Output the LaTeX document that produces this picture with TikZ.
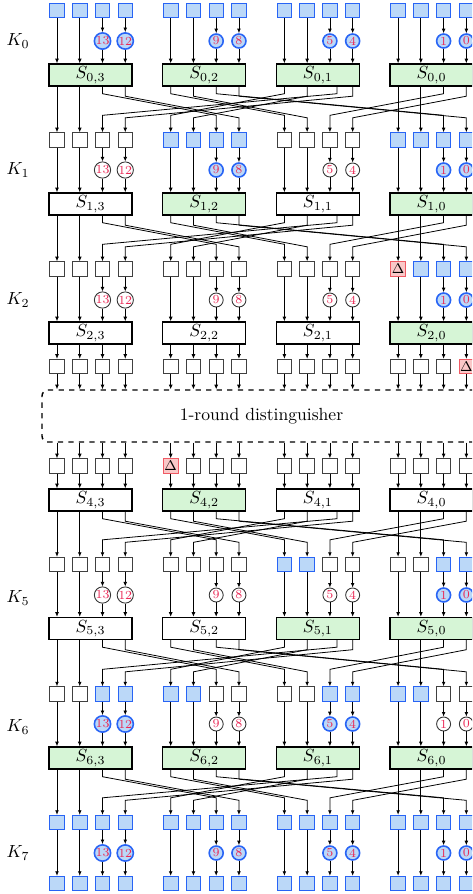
\documentclass[tikz,border=0pt]{standalone}
\usetikzlibrary{arrows.meta,calc}

\definecolor{actfill}{RGB}{187,216,248}
\definecolor{actdraw}{RGB}{40,100,245}
\definecolor{sfill}{RGB}{214,245,214}
\definecolor{dfill}{RGB}{250,200,200}
\definecolor{ddraw}{RGB}{240,90,100}
\definecolor{keyred}{RGB}{235,40,85}

\tikzset{
  wire/.style={-{Latex[length=2.6pt,width=2.2pt]}, line width=0.45pt},
  cell/.style={draw=black!75, line width=0.5pt, fill=white, minimum size=2.9mm, inner sep=0pt},
  act/.style={cell, draw=actdraw, fill=actfill},
  dlt/.style={cell, draw=ddraw, fill=dfill, label={[font=\footnotesize, inner sep=0pt]center:$\Delta$}},
  kbit/.style={circle, draw=black!80, line width=0.5pt, fill=white, minimum size=2.8mm, inner sep=0pt, font=\scriptsize, text=keyred},
  kact/.style={kbit, draw=actdraw, line width=0.9pt, fill=actfill},
  sbox/.style={draw, line width=0.8pt, fill=white, minimum width=16.6mm, minimum height=4.4mm, inner sep=0pt},
  sact/.style={sbox, fill=sfill},
  distbox/.style={draw, dashed, thick, rounded corners=1.2mm, minimum width=87.8mm, minimum height=10.4mm},
}

% one row of 16 state cells
\newcommand\cellrow[3]{\foreach \st [count=\col from 0] in {#3}{
  \pgfmathsetmacro\xx{57+113.7*int(\col/4)+22.75*mod(\col,4)}
  \node[\st] (b#1-\col) at (\xx,#2) {};}}
% round key bits 13,12,9,8,5,4,1,0
\newcommand\keyrow[3]{\foreach \st [count=\i from 0] in {#3}{
  \pgfmathtruncatemacro\col{2+4*int(\i/2)+mod(\i,2)}
  \pgfmathtruncatemacro\n{15-\col}
  \pgfmathsetmacro\xx{57+113.7*int(\col/4)+22.75*mod(\col,4)}
  \node[\st] (k#1-\col) at (\xx,#2) {\n};}}
\newcommand\sboxrow[3]{\foreach \st [count=\i from 0] in {#3}{
  \pgfmathtruncatemacro\g{3-\i}
  \node[\st] (s#1-\g) at (90.5+113.7*\i,#2) {$S_{#1,\g}$};}}
% cells -> (key) -> sbox
\newcommand\intos[1]{\foreach \col in {0,...,15}{
  \pgfmathtruncatemacro\g{3-int(\col/4)}
  \pgfmathtruncatemacro\p{mod(\col,4)}
  \ifnum\p<2
    \draw[wire] (b#1-\col) -- (b#1-\col |- s#1-\g.north);
  \else
    \draw[wire] (b#1-\col) -- (k#1-\col);
    \draw[wire] (k#1-\col) -- (k#1-\col |- s#1-\g.north);
  \fi}}
% bit permutation
\newcommand\permwires[2]{\foreach \src/\dst/\sh in {0/0/0,1/1/0,2/6/0,3/7/0,4/8/0,5/9/0,6/14/0,7/15/0,8/4/0,9/5/0,10/2/7,11/3/0,12/12/0,13/13/0,14/10/0,15/11/0}{
  \pgfmathtruncatemacro\g{3-int(\src/4)}
  \pgfmathsetmacro\lift{mod(\src,2)*2.5}
  \ifnum\src=\dst
    \draw[wire] (b#1-\src |- s#1-\g.south) -- (b#2-\dst);
  \else
    \draw[wire] ($(b#1-\src |- s#1-\g.south)+(\sh,0)$) -- ++(0,7+\lift)
      -- ($(b#2-\dst.north)+(0,\lift-17)$) -- (b#2-\dst);
  \fi}}

\begin{document}
\begin{tikzpicture}[x=0.2mm,y=-0.2mm]
\useasboundingbox (0,0) rectangle (472,894);
\clip (0,0) rectangle (472,894);

% round 0
\cellrow{0}{10.5}{act,act,act,act,act,act,act,act,act,act,act,act,act,act,act,act}
\keyrow{0}{41}{kact,kact,kact,kact,kact,kact,kact,kact}
\sboxrow{0}{75}{sact,sact,sact,sact}
\node (kl0) at (18,41) {$K_0$};
\intos{0}

% round 1
\cellrow{1}{140}{cell,cell,cell,cell,act,act,act,act,cell,cell,cell,cell,act,act,act,act}
\keyrow{1}{170}{kbit,kbit,kact,kact,kbit,kbit,kact,kact}
\sboxrow{1}{204}{sbox,sact,sbox,sact}
\node (kl1) at (18,170) {$K_1$};
\permwires{0}{1}
\intos{1}

% round 2
\cellrow{2}{269}{cell,cell,cell,cell,cell,cell,cell,cell,cell,cell,cell,cell,dlt,act,act,act}
\keyrow{2}{300}{kbit,kbit,kbit,kbit,kbit,kbit,kact,kact}
\sboxrow{2}{333}{sbox,sbox,sbox,sact}
\node (kl2) at (18,300) {$K_2$};
\permwires{1}{2}
\intos{2}

\cellrow{3}{366.5}{cell,cell,cell,cell,cell,cell,cell,cell,cell,cell,cell,cell,cell,cell,cell,dlt}
\node[distbox] (dist) at (261.5,416) {1-round distinguisher};
\foreach \col in {0,...,15}{
  \pgfmathtruncatemacro\g{3-int(\col/4)}
  \draw[wire] (b2-\col |- s2-\g.south) -- (b3-\col);
  \draw[wire] (b3-\col) -- (b3-\col |- dist.north);
}

% round 4
\cellrow{4}{466}{cell,cell,cell,cell,dlt,cell,cell,cell,cell,cell,cell,cell,cell,cell,cell,cell}
\sboxrow{4}{500}{sbox,sact,sbox,sbox}
\foreach \col in {0,...,15}{
  \pgfmathtruncatemacro\g{3-int(\col/4)}
  \draw[wire] (b4-\col |- dist.south) -- (b4-\col);
  \draw[wire] (b4-\col) -- (b4-\col |- s4-\g.north);
}

% round 5
\cellrow{5}{564.5}{cell,cell,cell,cell,cell,cell,cell,cell,act,act,cell,cell,cell,cell,act,act}
\keyrow{5}{595}{kbit,kbit,kbit,kbit,kbit,kbit,kact,kact}
\sboxrow{5}{628.5}{sbox,sbox,sact,sact}
\node (kl5) at (18,598) {$K_5$};
\permwires{4}{5}
\intos{5}

% round 6
\cellrow{6}{694}{cell,cell,act,act,act,act,cell,cell,cell,cell,act,act,act,act,cell,cell}
\keyrow{6}{724}{kact,kact,kbit,kbit,kact,kact,kbit,kbit}
\sboxrow{6}{758}{sact,sact,sact,sact}
\node (kl6) at (18,727) {$K_6$};
\permwires{5}{6}
\intos{6}

% round 7
\cellrow{7}{822.5}{act,act,act,act,act,act,act,act,act,act,act,act,act,act,act,act}
\keyrow{7}{853}{kact,kact,kact,kact,kact,kact,kact,kact}
\cellrow{8}{883.5}{act,act,act,act,act,act,act,act,act,act,act,act,act,act,act,act}
\node (kl7) at (18,853) {$K_7$};
\permwires{6}{7}
\foreach \col in {0,...,15}{
  \pgfmathtruncatemacro\p{mod(\col,4)}
  \ifnum\p<2
    \draw[wire] (b7-\col) -- (b8-\col);
  \else
    \draw[wire] (b7-\col) -- (k7-\col);
    \draw[wire] (k7-\col) -- (b8-\col);
  \fi
}
\end{tikzpicture}
\end{document}
